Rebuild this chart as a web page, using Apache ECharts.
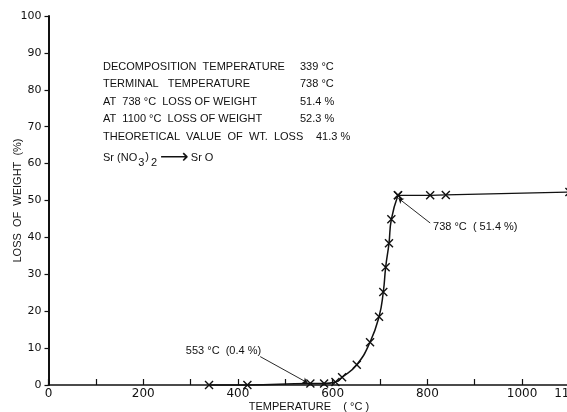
<!DOCTYPE html>
<html>
<head>
<meta charset="utf-8">
<script src="https://cdn.jsdelivr.net/npm/echarts@6/dist/echarts.min.js"></script>
<style>
  html, body { margin: 0; padding: 0; background: #fff; }
  #chart { width: 567px; height: 412px; }
</style>
</head>
<body>
<div id="chart"></div>
<script>
// Thermogravimetric curve of Sr(NO3)2 -> SrO
const riseTemps = [339, 420, 553, 582, 606, 620, 651, 679, 698, 707, 712, 719, 724, 738];
const riseLoss  = [0, 0, 0.4, 0.4, 0.8, 2.1, 5.5, 11.6, 18.5, 25.2, 31.9, 38.4, 44.9, 51.4];
const plateauTemps = [738, 806, 839, 1100];
const plateauLoss  = [51.4, 51.4, 51.5, 52.3];

const xLabelValues = [0, 200, 400, 600, 800, 1000, 1100];

const infoLabels = [
  'DECOMPOSITION  TEMPERATURE',
  'TERMINAL   TEMPERATURE',
  'AT  738 °C  LOSS OF WEIGHT',
  'AT  1100 °C  LOSS OF WEIGHT',
  'THEORETICAL  VALUE  OF  WT.  LOSS'
];
const infoValues = ['339 °C', '738 °C', '51.4 %', '52.3 %', '41.3 %'];

const peakNote = '738 °C  ( 51.4 %)';
const onsetNote = '553 °C  (0.4 %)';

const ink = '#111';
const font = 'Liberation Sans';

const crossSymbol = 'path://M0,0L10,10M10,0L0,10';

function toPairs(xs, ys) { return xs.map((x, i) => [x, ys[i]]); }

const chart = echarts.init(document.getElementById('chart'), null, { renderer: 'canvas' });

const infoGraphics = [];
infoLabels.forEach((t, i) => {
  const top = 61 + i * 17.5;
  infoGraphics.push({ type: 'text', left: 103, top: top,
    style: { text: t, fill: ink, font: '11px "' + font + '"' } });
  infoGraphics.push({ type: 'text', left: i === 4 ? 316 : 300, top: top,
    style: { text: infoValues[i], fill: ink, font: '11px "' + font + '"' } });
});
infoGraphics.push({ type: 'text', left: 103, top: 148,
  style: {
    text: 'Sr (NO{s|3}{p|)}{s|2}{a|⟶}Sr O',
    fill: ink, font: '11px "' + font + '"',
    rich: {
      p: { fontSize: 11, fontFamily: font, padding: [0, 1, 0, 0], verticalAlign: 'top', lineHeight: 13 },
      s: { fontSize: 11, fontFamily: font, padding: [6, 1, 0, 1], verticalAlign: 'top', lineHeight: 13 },
      a: { fontSize: 20, fontFamily: 'DejaVu Sans', verticalAlign: 'top', lineHeight: 13, padding: [-3, 2, 0, 2] }
    }
  } });

chart.setOption({
  animation: false,
  backgroundColor: '#fff',
  grid: { left: 48.5, right: -2.4, top: 16, bottom: 27, containLabel: false, outerBoundsMode: 'none' },
  xAxis: {
    type: 'value', min: 0, max: 1100, interval: 100,
    name: 'TEMPERATURE    ( °C )', nameLocation: 'middle', nameGap: 16, nameMoveOverlap: false,
    nameTextStyle: { color: ink, fontFamily: font, fontSize: 11 },
    axisLine: { lineStyle: { color: ink, width: 1.6 } },
    axisTick: { inside: true, length: 6, lineStyle: { color: ink, width: 1.2 } },
    axisLabel: {
      color: ink, fontFamily: 'DejaVu Sans', fontSize: 12, margin: 3,
      interval: 0, hideOverlap: false,
      formatter: v => (xLabelValues.indexOf(v) >= 0 ? String(v) : '')
    },
    splitLine: { show: false }
  },
  yAxis: {
    type: 'value', min: 0, max: 100, interval: 10,
    name: 'LOSS  OF  WEIGHT  (%)', nameLocation: 'middle', nameGap: 25, nameMoveOverlap: false,
    nameTextStyle: { color: ink, fontFamily: font, fontSize: 11 },
    axisLine: { show: true, lineStyle: { color: ink, width: 2 } },
    axisTick: { show: true, length: 4, lineStyle: { color: ink, width: 1.2 } },
    axisLabel: { color: ink, fontFamily: 'DejaVu Sans', fontSize: 11, margin: 7 },
    splitLine: { show: false }
  },
  graphic: infoGraphics,
  series: [
    {
      type: 'line',
      data: toPairs(riseTemps, riseLoss),
      smooth: 0.5,
      symbol: crossSymbol,
      symbolSize: [8, 8],
      itemStyle: { color: ink, borderColor: ink, borderWidth: 1.4 },
      lineStyle: { color: ink, width: 1.5 },
      clip: false,
      markLine: {
        silent: true,
        symbol: ['none', 'arrow'],
        symbolSize: 5,
        lineStyle: { color: ink, width: 0.9, type: 'solid' },
        label: { show: false },
        data: [
          [{ coord: [806, 43.9] }, { coord: [739, 50.6] }],
          [{ coord: [447, 7.7] }, { coord: [547, 0.6] }]
        ]
      },
      markPoint: {
        symbol: 'circle', symbolSize: 0,
        label: { show: true, position: 'right', distance: 0, formatter: '{b}',
                 color: ink, fontFamily: font, fontSize: 11 },
        data: [
          { name: peakNote, coord: [812, 42.9] },
          { name: onsetNote, coord: [290, 9.3] }
        ]
      }
    },
    {
      type: 'line',
      data: toPairs(plateauTemps, plateauLoss),
      symbol: crossSymbol,
      symbolSize: [8, 8],
      itemStyle: { color: ink, borderColor: ink, borderWidth: 1.4 },
      lineStyle: { color: ink, width: 1.3 },
      clip: false
    }
  ]
});
</script>
</body>
</html>
